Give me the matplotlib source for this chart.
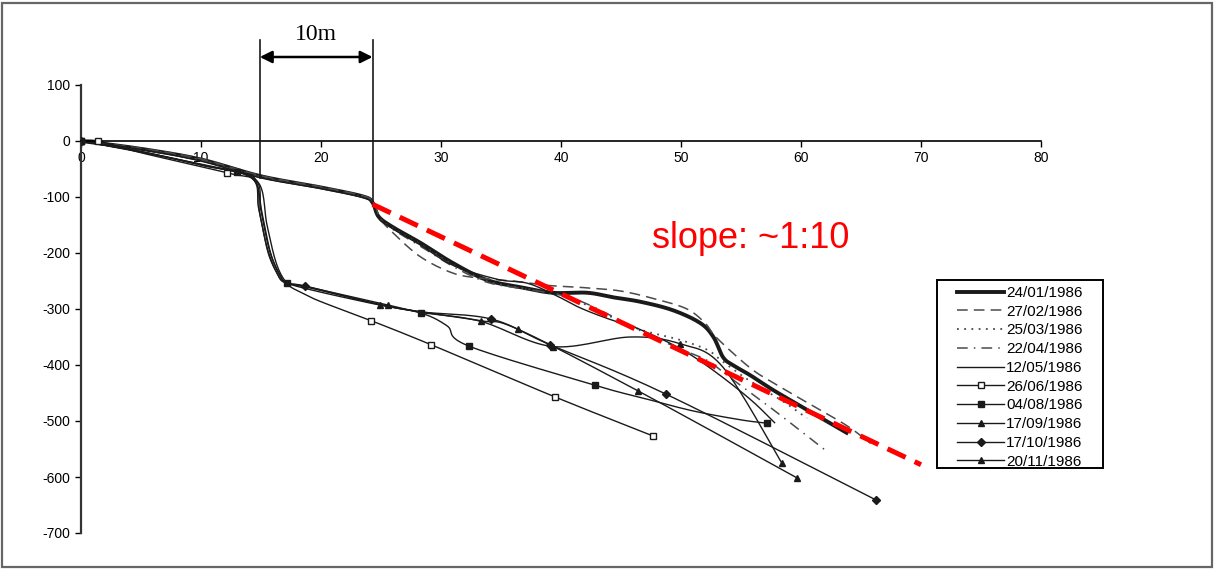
import numpy as np
import matplotlib
matplotlib.use("Agg")
import matplotlib.pyplot as plt
from matplotlib.lines import Line2D
from matplotlib.patches import Rectangle

plt.rcParams["font.family"] = ["Liberation Sans", "DejaVu Sans"]
plt.rcParams["axes.unicode_minus"] = False

# survey dates (legend order)
dates = ["24/01/1986", "27/02/1986", "25/03/1986", "22/04/1986", "12/05/1986",
         "26/06/1986", "04/08/1986", "17/09/1986", "17/10/1986", "20/11/1986"]

# upper group - profiles still holding the step at ~24 m
x_2401 = [0, 5, 10, 15, 20, 23.5, 24.3, 24.8, 26, 28.3, 31, 33.8, 36.6, 39.3, 42.2, 44.3,
          46.6, 49.3, 51.6, 52.7, 53.5, 54.3, 55.75, 57.7, 60.5, 63.8]
y_2401 = [0, -14, -33, -63, -83, -99, -110, -135, -154, -182, -218, -248, -261, -271, -271, -279,
          -287, -302, -325, -350, -386, -400, -418, -445, -480, -521]

x_2702 = [0, 5, 10, 15, 20, 23.5, 24.3, 25, 26, 28.3, 31, 33.3, 36, 39, 42, 45, 48, 50.5,
          52, 53, 55.75, 57.7, 60.5, 63.8, 65.8]
y_2702 = [0, -13, -32, -62, -82, -98, -108, -140, -164, -207, -236, -245, -250, -258, -262,
          -268, -283, -300, -325, -352, -405, -432, -467, -508, -540]

x_2503 = [0, 5, 10, 15, 20, 23.5, 24.3, 24.8, 26, 28.3, 31, 33.8, 36.6, 39.3, 40.8, 43.5,
          46.5, 49.9, 52.2, 53.3, 55.5, 58.5, 60.5]
y_2503 = [0, -14, -34, -64, -84, -100, -111, -137, -156, -185, -221, -250, -262, -272, -280,
          -307, -336, -355, -373, -391, -425, -465, -495]

x_2204 = [0, 5, 10, 15, 20, 23.5, 24.3, 24.8, 26, 28.3, 31, 33.8, 36.6, 39.3, 41.5, 44, 47,
          50, 52.2, 54, 57.7, 62.2]
y_2204 = [0, -15, -35, -65, -84, -100, -110, -138, -158, -188, -224, -252, -263, -272, -285,
          -310, -343, -372, -392, -421, -480, -555]

x_1205 = [0, 5, 10, 15, 20, 23.5, 24.3, 24.8, 26, 28.3, 31, 34.7, 37.2, 39.5, 41.6, 44,
          46.3, 49.7, 52.4, 55.7, 57.8]
y_1205 = [0, -15, -36, -66, -85, -101, -112, -138, -157, -186, -222, -247, -254, -275, -298,
          -318, -334, -368, -405, -460, -503]

# lower group - profiles after the collapse at ~15 m (with markers)
x_2606 = [0, 1.4, 5, 12.2, 14.8, 15.5, 16.3, 17.2, 18.3, 20, 24.2, 29.2, 39.5, 47.7]
y_2606 = [0, 0, -21, -57, -75, -150, -220, -255, -270, -287, -321, -364, -457, -527]
m_2606 = [0, 1, 3, 10, 11, 12, 13]

x_0408 = [0, 5, 13, 14.5, 15.1, 15.8, 16.6, 17.2, 20, 24.9, 28.3, 30.5, 32.3, 42.8, 47, 51,
          55, 57.2]
y_0408 = [0, -20, -55, -68, -130, -200, -240, -254, -270, -293, -307, -330, -366, -436, -460,
          -482, -498, -504]
m_0408 = [0, 2, 7, 10, 12, 13, 17]

x_1709 = [0, 5, 10, 14.3, 14.9, 15.6, 16.4, 17.0, 19, 24.9, 28.3, 33.3, 36.4, 46.4, 59.7]
y_1709 = [0, -19, -43, -67, -130, -200, -238, -253, -262, -292, -305, -321, -336, -446, -602]
m_1709 = [0, 9, 12, 13, 14]

x_1710 = [0, 5, 10, 14.4, 15.0, 15.7, 16.5, 17.2, 18.7, 24.5, 28.3, 34.2, 39.1, 48.75, 66.25]
y_1710 = [0, -19, -43, -66, -125, -195, -237, -254, -259, -290, -305, -318, -364, -452, -641]
m_1710 = [0, 8, 11, 12, 13, 14]

x_2011 = [0, 5, 10, 14.2, 14.8, 15.5, 16.3, 17.0, 19, 25.6, 28.3, 33.3, 39.3, 45.75, 49.9,
          53.5, 58.4]
y_2011 = [0, -19, -42, -66, -120, -190, -235, -252, -261, -293, -306, -322, -367, -350, -362,
          -404, -575]
m_2011 = [0, 9, 11, 12, 14, 16]

# slope guide and the 10 m dimension
slope_x = [24.3, 70]
slope_y = [-113, -578]
dim_left, dim_right = 14.9, 24.3


def smooth(x, y, n=16):
    # excel-like smoothed line (catmull-rom through the points)
    p = np.column_stack([x, y]).astype(float)
    pe = np.vstack([p[0], p, p[-1]])
    t = np.linspace(0, 1, n, endpoint=False)[:, None]
    out = []
    for i in range(len(p) - 1):
        p0, p1, p2, p3 = pe[i], pe[i + 1], pe[i + 2], pe[i + 3]
        c1 = p1 + (p2 - p0) / 6
        c2 = p2 - (p3 - p1) / 6
        out.append((1 - t) ** 3 * p1 + 3 * (1 - t) ** 2 * t * c1
                   + 3 * (1 - t) * t ** 2 * c2 + t ** 3 * p2)
    out.append(p[-1:])
    s = np.vstack(out)
    return s[:, 0], s[:, 1]


fig = plt.figure(figsize=(12.14, 5.69), dpi=100)
ax = fig.add_axes([81 / 1214, 36 / 569, 960 / 1214, 448 / 569])

dark = "#1a1a1a"
grey = "#4a4a4a"

styles = [
    (x_2401, y_2401, dict(color=dark, lw=2.8, ls="-"), None, None),
    (x_2702, y_2702, dict(color=grey, lw=1.1, dashes=(7, 4)), None, None),
    (x_2503, y_2503, dict(color=grey, lw=1.3, dashes=(1, 3)), None, None),
    (x_2204, y_2204, dict(color=grey, lw=1.1, dashes=(7, 4, 1, 4)), None, None),
    (x_1205, y_1205, dict(color=dark, lw=1.0, ls="-"), None, None),
    (x_2606, y_2606, dict(color=dark, lw=1.0, ls="-"),
     dict(marker="s", ms=4.5, mfc="white", mec=dark, mew=1.0), m_2606),
    (x_0408, y_0408, dict(color=dark, lw=1.0, ls="-"),
     dict(marker="s", ms=4.5, mfc=dark, mec=dark), m_0408),
    (x_1709, y_1709, dict(color=dark, lw=1.0, ls="-"),
     dict(marker="^", ms=4.5, mfc=dark, mec=dark), m_1709),
    (x_1710, y_1710, dict(color=dark, lw=1.0, ls="-"),
     dict(marker="D", ms=4.2, mfc=dark, mec=dark), m_1710),
    (x_2011, y_2011, dict(color=dark, lw=1.0, ls="-"),
     dict(marker="^", ms=3.8, mfc=dark, mec=dark), m_2011),
]

handles = []
for (xs, ys, line_kw, mk_kw, mk_idx), label in zip(styles, dates):
    sx, sy = smooth(xs, ys)
    ax.plot(sx, sy, zorder=2, **line_kw)
    if mk_kw is not None:
        ax.plot(xs, ys, ls="none", markevery=mk_idx, zorder=3, **mk_kw)
        handles.append(Line2D([], [], **line_kw, **mk_kw))
    else:
        handles.append(Line2D([], [], **line_kw))

ax.plot(slope_x, slope_y, color="#ff0000", lw=3.6, dashes=(4, 2), zorder=4)
ax.text(47.6, -191, "slope: ~1:10", color="#ff0000", fontsize=26, ha="left", va="baseline")

# 10 m dimension above the step
for xv, ybot in [(dim_left, -66), (dim_right, -108)]:
    ax.plot([xv, xv], [180, ybot], color=dark, lw=1.2, clip_on=False, zorder=3)
ax.annotate("", xy=(dim_left, 150), xytext=(dim_right, 150),
            arrowprops=dict(arrowstyle="<|-|>", color="black", lw=1.8,
                            mutation_scale=18, shrinkA=0, shrinkB=0),
            annotation_clip=False)
ax.text((dim_left + dim_right) / 2, 190, "10m", family=["Liberation Serif", "DejaVu Serif"],
        fontsize=17, ha="center", va="center")

ax.set_xlim(0, 80)
ax.set_ylim(-700, 100)
ax.spines["left"].set_position(("data", 0))
ax.spines["bottom"].set_position(("data", 0))
ax.spines["top"].set_visible(False)
ax.spines["right"].set_visible(False)
ax.spines["left"].set_linewidth(1.6)
ax.spines["left"].set_color("#333333")
ax.spines["bottom"].set_linewidth(1.2)
ax.set_xticks(range(0, 81, 10))
ax.set_yticks(range(-700, 101, 100))
ax.tick_params(direction="out", length=4, width=1, labelsize=10)

# legend: contents placed by hand, frame drawn separately (wider side padding)
leg_box = Rectangle((937 / 1214, 1 - 468 / 569), 166 / 1214, 188 / 569,
                    transform=fig.transFigure, facecolor="white", edgecolor="black",
                    lw=1.4, clip_on=False, zorder=5)
ax.add_patch(leg_box)
leg = ax.legend(handles, dates, loc="upper left", bbox_to_anchor=(957 / 1214, 1 - 286 / 569),
                bbox_transform=fig.transFigure, fontsize=11, handlelength=3.1,
                handletextpad=0.1, labelspacing=0.31, borderpad=0, borderaxespad=0,
                frameon=False)
leg.set_zorder(6)

fig.patches.append(Rectangle((0.002, 0.004), 0.996, 0.99, transform=fig.transFigure,
                             fill=False, edgecolor="#666666", lw=1.6))

fig.savefig("out.png", dpi=100)
